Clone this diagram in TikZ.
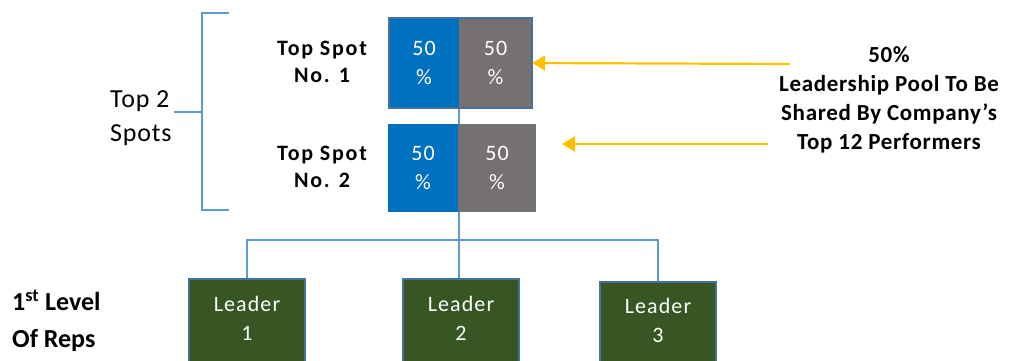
\documentclass[tikz,border=0pt]{standalone}
\usepackage{fontspec}
\setmainfont{Carlito}
\newfontfamily\wideA[LetterSpace=8]{Carlito}
\newfontfamily\wideB[LetterSpace=5]{Carlito}
\newfontfamily\wideC[LetterSpace=3]{Carlito}
\usetikzlibrary{arrows.meta,fit}
\definecolor{spotblue}{HTML}{0070C0}
\definecolor{spotgray}{HTML}{767171}
\definecolor{leadgreen}{HTML}{375623}
\definecolor{edgeblue}{HTML}{41719C}
\definecolor{linkblue}{HTML}{5B9BD5}
\definecolor{arrowgold}{HTML}{FFC000}
\begin{document}
\begin{tikzpicture}[x=1pt,y=-1pt,
  cell/.style={inner sep=0pt, text=white, align=center, font=\wideB\fontsize{22}{29}\selectfont},
  leaderbox/.style={draw=edgeblue, fill=leadgreen, line width=2pt, minimum width=116pt, minimum height=120pt, anchor=north, inner sep=0pt},
  leadertext/.style={inner sep=0pt, text=white, align=center, font=\wideB\fontsize{22}{29}\selectfont},
  spotlabel/.style={inner sep=0pt, align=center, font=\wideA\bfseries\fontsize{22}{27}\selectfont},
  link/.style={draw=linkblue, line width=2.2pt},
  goldarrow/.style={draw=arrowgold, line width=2.2pt, -{Triangle[length=13pt,width=15pt]}}
]
\useasboundingbox (0,0) rectangle (1010,361);
\clip (0,0) rectangle (1010,361);

% bracket
\draw[link] (229,13) -- (202,13) -- (202,210) -- (229,210);
\draw[link] (174,112) -- (202,112);
\node[inner sep=0pt, align=left, anchor=west, font=\wideC\fontsize{26}{34}\selectfont] (spots) at (110,118) {Top 2\\Spots};

% top spot labels
\node[spotlabel] (s1lab) at (322,62) {Top Spot\\No. 1};
\node[spotlabel] (s2lab) at (322,167) {Top Spot\\No. 2};

% leader boxes
\coordinate (bus) at (459,240);
\node[leaderbox] (L1) at (247,278) {};
\node[leaderbox] (L2) at (461,278) {};
\node[leaderbox] (L3) at (658,281) {};

% cells
\node[cell, fill=spotblue, minimum width=70pt, minimum height=90pt] (b1) at (424,63) {50\\\%};
\node[cell, fill=spotgray, minimum width=73pt, minimum height=90pt] (g1) at (495.5,63) {50\\\%};
\node[draw=edgeblue, line width=2pt, fit=(b1)(g1), inner sep=0pt] (frame1) {};
\node[cell, fill=spotblue, minimum width=70pt, minimum height=88pt] (b2) at (423,168) {50\\\%};
\node[cell, fill=spotgray, minimum width=78pt, minimum height=88pt] (g2) at (497,168) {50\\\%};

\draw[link] (frame1.south -| bus) -- (b2.north -| bus);
\draw[link] (b2.south -| bus) -- (bus);
\draw[link] (L1.north) |- (bus) -| (L3.north);
\draw[link] (bus) -- (bus |- L2.north);

% leader texts
\node[leadertext] (L1t) at (247,318) {Leader\\1};
\node[leadertext] (L2t) at (461,318) {Leader\\2};
\node[leadertext] (L3t) at (658,320) {Leader\\3};

% note and arrows
\node[inner sep=0pt, align=center, font=\wideC\bfseries\fontsize{23}{29}\selectfont] (note) at (889,100) {50\%\\Leadership Pool To Be\\Shared By Company’s\\Top 12 Performers};
\coordinate (a1) at (790,64);
\coordinate (a2) at (768,144);
\coordinate (t2) at (562,144);
\draw[goldarrow] (a1) -- (g1.east);
\draw[goldarrow] (a2) -- (t2);

% level label
\node[inner sep=0pt, align=left, anchor=west, font=\bfseries\fontsize{26}{37}\selectfont] (level) at (12,321) {1\textsuperscript{st} Level\\Of Reps};
\end{tikzpicture}
\end{document}
